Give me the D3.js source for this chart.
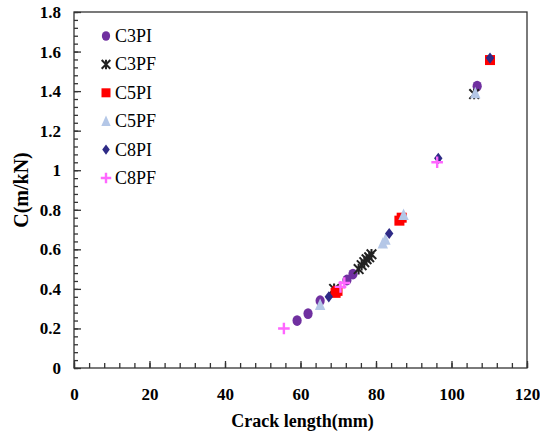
<!DOCTYPE html>
<html><head><meta charset="utf-8">
<script src="https://cdn.jsdelivr.net/npm/d3@7"></script>
<style>body{margin:0;background:#fff}svg{display:block}</style>
</head><body>
<svg id="c" width="540" height="441"></svg>
<script>
// Data (crack length mm, compliance m/kN)
const seriesNames = ["C3PI","C3PF","C5PI","C5PF","C8PI","C8PF"];
const C3PI = [[59.1,0.24],[62.0,0.275],[65.2,0.34],[72.3,0.445],[73.9,0.475],[106.8,1.425]];
const C3PF = [[68.9,0.40],[75.4,0.50],[76.2,0.52],[76.9,0.535],[77.5,0.55],[78.2,0.56],[78.8,0.575],[106.0,1.385]];
const C5PI = [[69.3,0.38],[69.8,0.39],[86.2,0.745],[86.8,0.76],[110.2,1.557]];
const C5PF = [[65.2,0.32],[81.8,0.63],[82.5,0.65],[87.3,0.775],[106.3,1.39]];
const C8PI = [[67.5,0.36],[83.5,0.68],[96.5,1.06],[110.2,1.567]];
const C8PF = [[55.6,0.20],[70.6,0.41],[71.6,0.43],[96.2,1.04]];
const xTicks = [0,20,40,60,80,100,120];
const yTicks = [0,0.2,0.4,0.6,0.8,1,1.2,1.4,1.6,1.8];
const xTitle = "Crack length(mm)";
const yTitle = "C(m/kN)";

const seriesData = [C3PI,C3PF,C5PI,C5PF,C8PI,C8PF];
const colors = ["#7030A0","#222222","#FF0000","#B4C7E7","#2E2A86","#FF66FF"];

const svg = d3.select("#c");
const L=74,R=527,T=12,B=368;
const x = d3.scaleLinear().domain([0,120]).range([L,R]);
const y = d3.scaleLinear().domain([0,1.8]).range([B,T]);
const axisColor="#333";
const serif = "'Liberation Serif','Times New Roman',serif";

// frame
svg.append("rect").attr("x",L).attr("y",T).attr("width",R-L).attr("height",B-T)
  .attr("fill","none").attr("stroke",axisColor).attr("stroke-width",1.3);

// minor ticks
const xMinor = d3.range(0,121,4);
const yMinor = d3.range(0,46).map(i=>i*0.04);
const xAx = svg.append("g").attr("transform",`translate(0,${B})`)
  .call(d3.axisBottom(x).tickValues(xMinor).tickSize(-5).tickFormat(""));
const yAx = svg.append("g").attr("transform",`translate(${L},0)`)
  .call(d3.axisLeft(y).tickValues(yMinor).tickSize(-4).tickFormat(""));
// major ticks + labels
const xMaj = svg.append("g").attr("transform",`translate(0,${B})`)
  .call(d3.axisBottom(x).tickValues(xTicks).tickSize(-7).tickPadding(20).tickFormat(d=>String(d)));
const yMaj = svg.append("g").attr("transform",`translate(${L},0)`)
  .call(d3.axisLeft(y).tickValues(yTicks).tickSize(-7).tickPadding(13).tickFormat(d=>String(d)));
[xAx,yAx,xMaj,yMaj].forEach(g=>{
  g.select(".domain").remove();
  g.selectAll("line").attr("stroke",axisColor).attr("stroke-width",1.3);
  g.selectAll("text").attr("font-family",serif).attr("font-weight","bold")
   .attr("font-size",17).attr("fill","#000");
});

// titles
svg.append("text").attr("x",(L+R)/2+2).attr("y",427).attr("text-anchor","middle")
  .attr("font-family",serif).attr("font-weight","bold").attr("font-size",18).text(xTitle);
svg.append("text").attr("transform",`translate(28,${(T+B)/2}) rotate(-90)`)
  .attr("text-anchor","middle").attr("font-family",serif).attr("font-weight","bold")
  .attr("font-size",20).text(yTitle);

// marker drawing
function marker(g, type, color, s){
  if(type===0){ g.append("ellipse").attr("rx",4.6*s).attr("ry",5.4*s).attr("fill",color); }
  else if(type===1){
    const a=4.8*s;
    g.append("path").attr("d",`M${-a},${-a}L${a},${a}M${-a},${a}L${a},${-a}M0,${-a*1.1}L0,${a*1.1}`)
     .attr("stroke",color).attr("stroke-width",2).attr("fill","none");
  }
  else if(type===2){ const a=5*s; g.append("rect").attr("x",-a).attr("y",-a).attr("width",2*a).attr("height",2*a).attr("fill",color); }
  else if(type===3){ const a=5.2*s; g.append("path").attr("d",`M0,${-a*1.2}L${a},${a}L${-a},${a}Z`).attr("fill",color); }
  else if(type===4){ const a=4.2*s, b=5.6*s; g.append("path").attr("d",`M0,${-b}L${a},0L0,${b}L${-a},0Z`).attr("fill",color); }
  else if(type===5){ const a=5.8*s; g.append("path").attr("d",`M${-a},0L${a},0M0,${-a}L0,${a}`).attr("stroke",color).attr("stroke-width",2.4).attr("fill","none"); }
}

// points
seriesData.forEach((data,i)=>{
  const g = svg.append("g");
  g.selectAll("g").data(data).join("g")
    .attr("transform",d=>`translate(${x(d[0])},${y(d[1])})`)
    .each(function(){ marker(d3.select(this), i, colors[i], 1); });
});

// legend
seriesNames.forEach((n,i)=>{
  const yy = 36 + i*28.4;
  const g = svg.append("g").attr("transform",`translate(106,${yy})`);
  marker(g, i, colors[i], 0.9);
  svg.append("text").attr("x",115).attr("y",yy+6).attr("font-family",serif)
    .attr("font-size",18).attr("fill","#000").text(n);
});
</script>
</body></html>
